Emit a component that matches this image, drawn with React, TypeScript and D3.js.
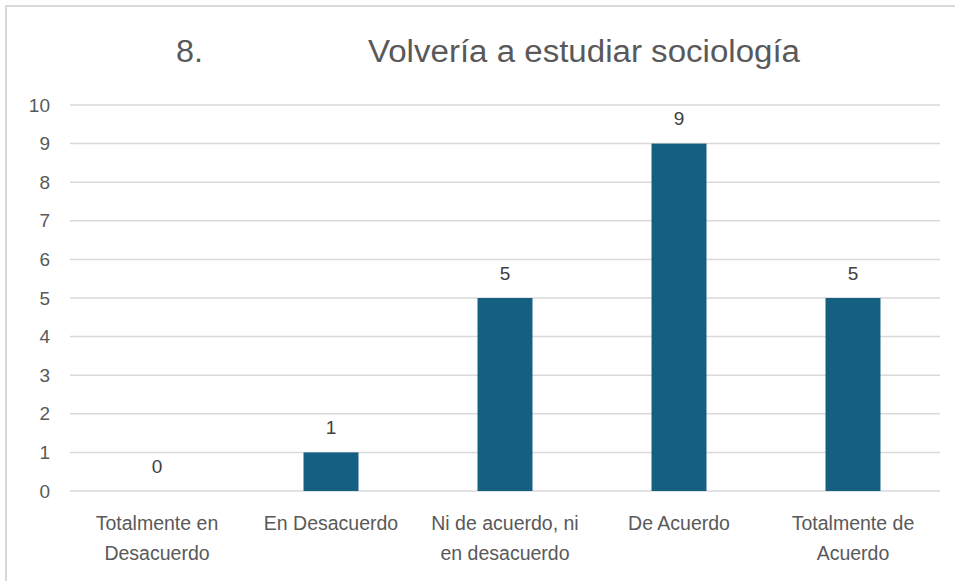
import React from "react";
import * as d3 from "d3";

const categories: string[][] = [
  ["Totalmente en", "Desacuerdo"],
  ["En Desacuerdo"],
  ["Ni de acuerdo, ni", "en desacuerdo"],
  ["De Acuerdo"],
  ["Totalmente de", "Acuerdo"],
];
const values: number[] = [0, 1, 5, 9, 5];
const yTicks: number[] = [0, 1, 2, 3, 4, 5, 6, 7, 8, 9, 10];
const titleNumber = "8.";
const titleText = "Volvería a estudiar sociología";

const W = 955;
const H = 581;
const left = 70;
const right = 940;
const top = 105;
const bottom = 491;
const textColor = "#595959";
const gridColor = "#d9d9d9";
const barColor = "#156082";
const regular = "'Liberation Sans', Arial, sans-serif";

export default function App() {
  const keys = categories.map((_, i) => String(i));
  const x = d3.scaleBand<string>().domain(keys).range([left, right]).paddingInner(0.684).paddingOuter(0.342);
  const y = d3.scaleLinear().domain([0, 10]).range([bottom, top]);
  const step = (right - left) / categories.length;

  return (
    <svg width={W} height={H} style={{ position: "absolute", left: 0, top: 0, background: "#fff" }}>
      <rect x={0} y={0} width={W} height={H} fill="#fff" />
      <line x1={5} x2={W} y1={6} y2={6} stroke={gridColor} strokeWidth={2} />
      <line x1={6} x2={6} y1={5} y2={H} stroke={gridColor} strokeWidth={2} />

      <text x={176} y={62} fontFamily={regular} fontSize={31} fill={textColor} textLength={27} lengthAdjust="spacingAndGlyphs">
        {titleNumber}
      </text>
      <text x={368} y={62} fontFamily={regular} fontSize={31} fill={textColor} textLength={432} lengthAdjust="spacingAndGlyphs">
        {titleText}
      </text>

      {yTicks.map((t) => (
        <g key={t}>
          <line x1={left} x2={right} y1={y(t)} y2={y(t)} stroke={gridColor} strokeWidth={1.5} />
          <text x={50} y={y(t)} dy="0.35em" textAnchor="end" fontFamily={regular} fontSize={19} fill={textColor}>
            {t}
          </text>
        </g>
      ))}

      {values.map((v, i) => {
        const bx = x(String(i))!;
        const bw = x.bandwidth();
        return (
          <g key={i}>
            {v > 0 && <rect x={bx} y={y(v)} width={bw} height={y(0) - y(v)} fill={barColor} />}
            <text x={bx + bw / 2} y={y(v) - 25} dy="0.35em" textAnchor="middle" fontFamily={regular} fontSize={19} fill="#404040">
              {v}
            </text>
          </g>
        );
      })}

      {categories.map((lines, i) => {
        const cx = left + step * (i + 0.5);
        return (
          <text key={i} textAnchor="middle" fontFamily={regular} fontSize={19.5} fill={textColor}>
            {lines.map((l, j) => (
              <tspan key={j} x={cx} y={523 + j * 30} dy="0.35em">
                {l}
              </tspan>
            ))}
          </text>
        );
      })}
    </svg>
  );
}
